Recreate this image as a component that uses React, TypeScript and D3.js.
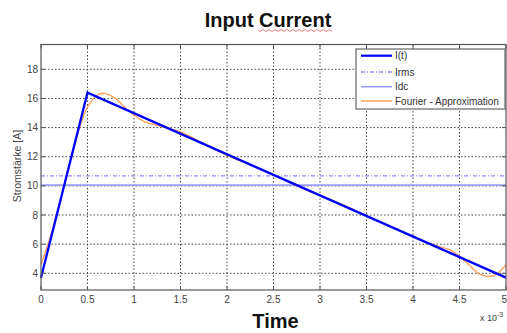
import * as d3 from "d3";

// chart values (time in ms, current in A)
const currentT = [0, 0.5, 5];
const currentI = [3.7, 16.4, 3.7];
const irms = 10.68;
const idc = 10.05;
const fourierT = [0, 0.1, 0.2, 0.3, 0.4, 0.5, 0.6, 0.68, 0.8, 0.9, 1.0, 1.1, 1.25, 1.5, 1.75, 2.0, 2.25, 2.5, 2.75, 3.0, 3.25, 3.5, 3.75, 4.0, 4.25, 4.4, 4.5, 4.6, 4.7, 4.8, 4.9, 5.0];
const fourierI = [4.6, 6.5, 8.8, 11.3, 13.7, 15.4, 16.2, 16.35, 16.0, 15.4, 14.85, 14.45, 14.15, 13.7, 12.9, 12.1, 11.45, 10.75, 10.0, 9.35, 8.7, 7.95, 7.25, 6.5, 5.9, 5.6, 5.15, 4.6, 4.0, 3.78, 3.95, 4.6];
const xTicks = [0, 0.5, 1, 1.5, 2, 2.5, 3, 3.5, 4, 4.5, 5];
const yTicks = [4, 6, 8, 10, 12, 14, 16, 18];
const legendLabels = ["I(t)", "Irms", "Idc", "Fourier - Approximation"];

const W = 507;
const H = 333;
const plot = { left: 41, right: 506, top: 44.5, bottom: 290 };

const x = d3.scaleLinear().domain([0, 5]).range([plot.left, plot.right]);
const y = d3.scaleLinear().domain([4, 18]).range([273.3, 69.3]);

const font = "Arial, 'Liberation Sans', sans-serif";

export default function App() {
  const currentLine = d3
    .line<number>()
    .x((d, i) => x(currentT[i]))
    .y((d) => y(d))(currentI) as string;

  const fourierLine = d3
    .line<number>()
    .x((d, i) => x(fourierT[i]))
    .y((d) => y(d))
    .curve(d3.curveCatmullRom)(fourierI) as string;

  // legend style per entry
  const legendStyles = [
    { stroke: "#0000ff", width: 2.2, dash: "" },
    { stroke: "#8c8cff", width: 1.3, dash: "4,2,1,2" },
    { stroke: "#9b9bff", width: 1.6, dash: "" },
    { stroke: "#ff9f5a", width: 1.4, dash: "" },
  ];
  const legendY = [55.7, 72, 86.7, 101];

  // red squiggle under "Current"
  let squiggle = "M258,30";
  for (let i = 0; i < 25; i++) {
    squiggle += ` L${260 + i * 3},${i % 2 === 0 ? 31.5 : 29.5}`;
  }

  return (
    <svg
      width={W}
      height={H}
      style={{ position: "absolute", left: 0, top: 0, background: "#fff" }}
      fontFamily={font}
    >
      <rect x={0} y={0} width={W} height={H} fill="#fff" />

      {/* title */}
      <text x={268} y={27} textAnchor="middle" fontSize={20} fontWeight="bold" fill="#111">
        Input Current
      </text>
      <path d={squiggle} fill="none" stroke="#e86060" strokeWidth={0.8} />

      {/* grid */}
      <g stroke="#444" strokeWidth={1} strokeDasharray="1.5,2">
        {xTicks.slice(1, -1).map((t) => (
          <line key={"gx" + t} x1={x(t)} x2={x(t)} y1={plot.top} y2={plot.bottom} />
        ))}
        {yTicks.map((t) => (
          <line key={"gy" + t} x1={plot.left} x2={plot.right} y1={y(t)} y2={y(t)} />
        ))}
      </g>

      {/* dc and rms levels */}
      <line x1={plot.left} x2={plot.right} y1={y(irms)} y2={y(irms)} stroke="#8c8cff" strokeWidth={1.3} strokeDasharray="4,2,1,2" />
      <line x1={plot.left} x2={plot.right} y1={y(idc)} y2={y(idc)} stroke="#9b9bff" strokeWidth={1.6} />

      {/* fourier approximation */}
      <path d={fourierLine} fill="none" stroke="#ff9f5a" strokeWidth={1.4} />
      {/* I(t) */}
      <path d={currentLine} fill="none" stroke="#0000ff" strokeWidth={2.3} strokeLinejoin="miter" />

      {/* frame */}
      <rect
        x={plot.left}
        y={plot.top}
        width={plot.right - plot.left}
        height={plot.bottom - plot.top}
        fill="none"
        stroke="#555"
        strokeWidth={1.2}
      />
      {/* inward ticks */}
      <g stroke="#555" strokeWidth={1}>
        {xTicks.map((t) => (
          <g key={"tx" + t}>
            <line x1={x(t)} x2={x(t)} y1={plot.bottom} y2={plot.bottom - 4} />
            <line x1={x(t)} x2={x(t)} y1={plot.top} y2={plot.top + 4} />
          </g>
        ))}
        {yTicks.map((t) => (
          <g key={"ty" + t}>
            <line x1={plot.left} x2={plot.left + 4} y1={y(t)} y2={y(t)} />
            <line x1={plot.right} x2={plot.right - 4} y1={y(t)} y2={y(t)} />
          </g>
        ))}
      </g>

      {/* tick labels */}
      <g fontSize={10} fill="#444">
        {xTicks.map((t) => (
          <text key={"lx" + t} x={x(t)} y={303} textAnchor={t === 5 ? "end" : "middle"} dx={t === 5 ? 1 : 0}>
            {String(t)}
          </text>
        ))}
        {yTicks.map((t) => (
          <text key={"ly" + t} x={38} y={y(t)} dy="0.35em" textAnchor="end">
            {String(t)}
          </text>
        ))}
      </g>

      {/* axis labels */}
      <text
        transform="translate(17,166) rotate(-90)"
        textAnchor="middle"
        dy="0.35em"
        fontSize={10.5}
        fill="#444"
      >
        Stromstärke [A]
      </text>
      <text x={275.5} y={328} textAnchor="middle" fontSize={20} fontWeight="bold" fill="#111">
        Time
      </text>
      <text x={480} y={321} fontSize={9} fill="#444">
        x 10
        <tspan dy={-4} fontSize={7}>-3</tspan>
      </text>

      {/* legend */}
      <rect x={356} y={49} width={149} height={60} fill="#fff" stroke="#666" strokeWidth={1.2} />
      {legendLabels.map((label, i) => (
        <g key={label}>
          <line
            x1={361}
            x2={392}
            y1={legendY[i]}
            y2={legendY[i]}
            stroke={legendStyles[i].stroke}
            strokeWidth={legendStyles[i].width}
            strokeDasharray={legendStyles[i].dash || undefined}
          />
          <text x={395} y={legendY[i]} dy="0.35em" fontSize={10} fill="#333">
            {label}
          </text>
        </g>
      ))}
    </svg>
  );
}
